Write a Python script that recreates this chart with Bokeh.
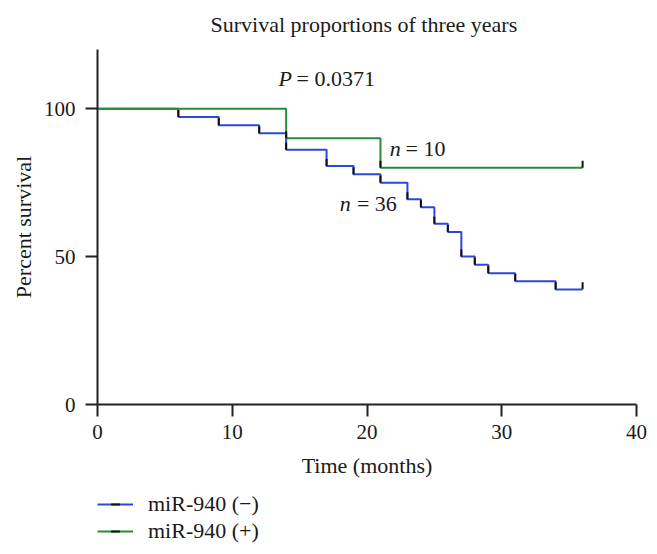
import math
from bokeh.plotting import figure
from bokeh.layouts import column
from bokeh.models import Legend, LegendItem, Range1d, FixedTicker
from bokeh.core.properties import value
from bokeh.embed import file_html
from bokeh.resources import INLINE

# Kaplan-Meier data
neg_months = [0, 6, 9, 12, 14, 17, 19, 21, 23, 24, 25, 26, 27, 28, 29, 31, 34, 36]
neg_survival = [100, 97.2, 94.4, 91.7, 86.1, 80.6, 77.8, 75.0, 69.4, 66.7, 61.1, 58.3,
                50.0, 47.2, 44.4, 41.7, 38.9, 38.9]
pos_months = [0, 14, 21, 36]
pos_survival = [100, 90.0, 80.0, 80.0]

x_ticks = [0, 10, 20, 30, 40]
y_ticks = [0, 50, 100]

title_text = "Survival proportions of three years"
x_label = "Time (months)"
y_label = "Percent survival"
neg_label = "miR-940 (\u2212)"
pos_label = "miR-940 (+)"
p_value_text = "= 0.0371"
neg_n_text = "= 36"
pos_n_text = "= 10"

BLUE = "#2B48D8"
GREEN = "#2A8A3A"
TICK = "#111111"
FONT = "Liberation Serif"
INK = "#1a1a1a"
FS = "22px"

p = figure(frame_width=539, frame_height=355, output_backend="svg", toolbar_location=None,
           x_range=Range1d(0, 40), y_range=Range1d(0, 120),
           min_border_left=97, min_border_right=14, min_border_top=48, min_border_bottom=82,
           title=title_text)
p.title.text_font = FONT
p.title.text_font_size = FS
p.title.text_font_style = "normal"
p.title.align = "left"
p.title.offset = 113
p.title.vertical_align = "top"
p.title.standoff = 22
p.title.text_color = INK

p.xgrid.visible = False
p.ygrid.visible = False
p.outline_line_color = None

for ax in (p.xaxis[0], p.yaxis[0]):
    ax.axis_line_width = 2
    ax.axis_line_color = "#222222"
    ax.major_tick_line_width = 2
    ax.major_tick_line_color = "#222222"
    ax.major_tick_out = 12
    ax.major_tick_in = 0
    ax.minor_tick_line_color = None
    ax.major_label_text_font = FONT
    ax.major_label_text_font_size = "21px"
    ax.major_label_text_color = INK
    ax.axis_label_text_font = FONT
    ax.axis_label_text_font_size = FS
    ax.axis_label_text_font_style = "normal"
    ax.axis_label_text_color = INK

p.xaxis.ticker = FixedTicker(ticks=x_ticks)
p.yaxis.ticker = FixedTicker(ticks=y_ticks)
p.xaxis.axis_label = x_label
p.yaxis.axis_label = y_label
p.xaxis.major_label_standoff = 8
p.yaxis.major_label_standoff = 10
p.xaxis.axis_label_standoff = 11
p.yaxis.axis_label_standoff = 5

p.step(neg_months, neg_survival, mode="after", line_color=BLUE, line_width=2)
p.step(pos_months, pos_survival, mode="after", line_color=GREEN, line_width=2)

# censor ticks (upward) at each event time and at the end of follow-up
tick_lift = 1.2
p.scatter(neg_months[1:], [s + tick_lift for s in neg_survival[1:]], marker="dash",
          angle=math.pi / 2, size=7, line_color=TICK, line_width=2)
p.scatter(pos_months[1:], [s + tick_lift for s in pos_survival[1:]], marker="dash",
          angle=math.pi / 2, size=7, line_color=TICK, line_width=2)

# annotations
def label(x, y, txt, style="normal"):
    p.text(x=[x], y=[y], text=[txt], text_font=value(FONT), text_font_size=FS,
           text_font_style=style, text_baseline="middle", text_align="left", text_color=INK)

label(13.43, 110.2, "P", "italic")
label(14.77, 110.2, p_value_text)
label(21.69, 86.6, "n", "italic")
label(22.86, 86.6, pos_n_text)
label(17.98, 67.85, "n", "italic")
label(19.25, 67.85, neg_n_text)

# legend strip below the chart (its frame is aligned with the chart's frame)
lg = figure(width=650, height=65, output_backend="svg", toolbar_location=None,
            x_range=Range1d(0, 1), y_range=Range1d(0, 1),
            x_axis_location=None, y_axis_location=None,
            min_border_left=0, min_border_right=0, min_border_top=0, min_border_bottom=0)
lg.xgrid.visible = False
lg.ygrid.visible = False
lg.outline_line_color = None
hidden = [5, 6]  # legend-only renderers, kept outside the visible range
neg_l = lg.line(hidden, hidden, line_color=BLUE, line_width=2)
neg_t = lg.scatter(hidden, hidden, marker="dash", angle=math.pi / 2, size=7,
                   line_color=TICK, line_width=2)
pos_l = lg.line(hidden, hidden, line_color=GREEN, line_width=2)
pos_t = lg.scatter(hidden, hidden, marker="dash", angle=math.pi / 2, size=7,
                   line_color=TICK, line_width=2)

legend = Legend(items=[LegendItem(label=neg_label, renderers=[neg_l, neg_t]),
                       LegendItem(label=pos_label, renderers=[pos_l, pos_t])],
                location=(0, 7), orientation="vertical")
legend.label_text_font = FONT
legend.label_text_font_size = FS
legend.label_text_color = INK
legend.glyph_width = 36
legend.glyph_height = 22
legend.label_height = 22
legend.label_standoff = 15
legend.spacing = 1
legend.padding = 0
legend.margin = 0
legend.border_line_color = None
legend.background_fill_color = None
lg.add_layout(legend, "center")

layout = column(p, lg, spacing=0)
open("out.html", "w").write(file_html(layout, INLINE))
